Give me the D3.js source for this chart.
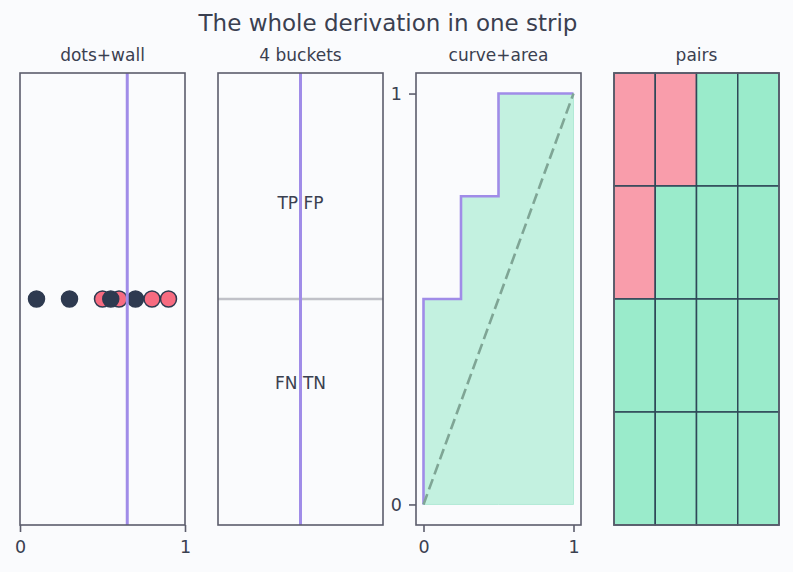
<!DOCTYPE html>
<html>
<head>
<meta charset="utf-8">
<script src="https://cdn.jsdelivr.net/npm/d3@7"></script>
<style>
  body { margin: 0; background: #fafbfd; }
  svg { display: block; font-family: "DejaVu Sans", sans-serif; }
</style>
</head>
<body>
<script>
// scores and true labels (1 = positive) of the 8 dots
var scores = [0.1, 0.3, 0.5, 0.55, 0.6, 0.7, 0.8, 0.9];
var labels = [0, 0, 1, 0, 1, 0, 1, 1];
var wall = 0.65;

var bucketText = ["TP FP", "FN TN"];
var bucketY = [0.7, 0.3];

// ROC steps
var rocFpr = [0, 0, 0.25, 0.25, 0.5, 0.5, 1];
var rocTpr = [0, 0.5, 0.5, 0.75, 0.75, 1, 1];

// pairs grid: 1 = ordered correctly, 0 = swapped
var pairs = [
    [0, 0, 1, 1],
    [0, 1, 1, 1],
    [1, 1, 1, 1],
    [1, 1, 1, 1]
];

var panelTitles = ["dots+wall", "4 buckets", "curve+area", "pairs"];
var ticks01 = [0, 1];

var width = 793, height = 572;
var plotTop = 73, plotBottom = 525;
var panelW = 165, step = 198, left0 = 20;

var ink = "#3a4050";
var frameCol = "#5c5d6c";
var purple = "#a08ce8";
var pink = "#f76b80";
var dark = "#2e3a50";

var svg = d3.select("body").append("svg")
    .attr("width", width)
    .attr("height", height);

svg.append("text")
    .attr("x", 388).attr("y", 31)
    .attr("text-anchor", "middle")
    .attr("font-size", 23)
    .attr("fill", ink)
    .text("The whole derivation in one strip");

function styleAxis(g) {
    g.select(".domain").remove();
    g.selectAll(".tick line").attr("stroke", frameCol).attr("stroke-width", 1.6);
    g.selectAll(".tick text").attr("fill", ink).attr("font-size", 17.5)
        .attr("font-family", "DejaVu Sans, sans-serif");
}

function panel(i) {
    var x0 = left0 + i * step;
    var g = svg.append("g");
    g.append("text")
        .attr("x", x0 + panelW / 2).attr("y", 61)
        .attr("text-anchor", "middle")
        .attr("font-size", 17)
        .attr("fill", ink)
        .text(panelTitles[i]);
    return { g: g, x0: x0, x1: x0 + panelW };
}

function frame(p) {
    p.g.append("rect")
        .attr("x", p.x0).attr("y", plotTop)
        .attr("width", panelW).attr("height", plotBottom - plotTop)
        .attr("fill", "none")
        .attr("stroke", frameCol)
        .attr("stroke-width", 1.6);
}

// panel 1: dots + wall
var p1 = panel(0);
var x1 = d3.scaleLinear().domain([0, 1]).range([p1.x0, p1.x1]);
var y1 = d3.scaleLinear().domain([-1, 1]).range([plotBottom, plotTop]);
var dots = scores.map((s, i) => ({ s: s, lab: labels[i] }));
dots.sort((a, b) => b.lab - a.lab);
p1.g.append("g").selectAll("circle")
    .data(dots)
    .join("circle")
    .attr("cx", d => x1(d.s))
    .attr("cy", y1(0))
    .attr("r", 8)
    .attr("fill", d => d.lab ? pink : dark)
    .attr("stroke", dark)
    .attr("stroke-width", 1.5);
p1.g.append("line")
    .attr("x1", x1(wall)).attr("x2", x1(wall))
    .attr("y1", plotTop).attr("y2", plotBottom)
    .attr("stroke", purple).attr("stroke-width", 3);
frame(p1);
p1.g.append("g")
    .attr("transform", `translate(0,${plotBottom})`)
    .call(d3.axisBottom(x1).tickValues(ticks01).tickFormat(d3.format("d")).tickSize(7).tickPadding(9))
    .call(styleAxis);

// panel 2: four buckets
var p2 = panel(1);
var x2 = d3.scaleLinear().domain([0, 1]).range([p2.x0, p2.x1]);
var y2 = d3.scaleLinear().domain([0, 1]).range([plotBottom, plotTop]);
p2.g.append("line")
    .attr("x1", x2(0)).attr("x2", x2(1))
    .attr("y1", y2(0.5)).attr("y2", y2(0.5))
    .attr("stroke", "#c0c1c8").attr("stroke-width", 2.5);
p2.g.append("line")
    .attr("x1", x2(0.5)).attr("x2", x2(0.5))
    .attr("y1", plotTop).attr("y2", plotBottom)
    .attr("stroke", purple).attr("stroke-width", 3);
p2.g.selectAll(".bucket")
    .data(bucketText)
    .join("text")
    .attr("class", "bucket")
    .attr("x", x2(0.5))
    .attr("y", (d, i) => y2(bucketY[i]))
    .attr("text-anchor", "middle")
    .attr("font-size", 17)
    .attr("fill", ink)
    .text(d => d);
frame(p2);

// panel 3: curve + area
var p3 = panel(2);
var x3 = d3.scaleLinear().domain([-0.05, 1.05]).range([p3.x0, p3.x1]);
var y3 = d3.scaleLinear().domain([-0.05, 1.05]).range([plotBottom, plotTop]);
var roc = rocFpr.map((f, i) => [f, rocTpr[i]]);
p3.g.append("path")
    .datum(roc)
    .attr("fill", "#c3f1e0")
    .attr("stroke", "#b2ead6")
    .attr("stroke-width", 1)
    .attr("d", d3.area().x(d => x3(d[0])).y0(y3(0)).y1(d => y3(d[1])));
p3.g.append("path")
    .datum(roc)
    .attr("fill", "none")
    .attr("stroke", purple)
    .attr("stroke-width", 2.6)
    .attr("d", d3.line().x(d => x3(d[0])).y(d => y3(d[1])));
p3.g.append("line")
    .attr("x1", x3(0)).attr("y1", y3(0))
    .attr("x2", x3(1)).attr("y2", y3(1))
    .attr("stroke", "#7fa595")
    .attr("stroke-width", 2.6)
    .attr("stroke-dasharray", "11,5");
frame(p3);
p3.g.append("g")
    .attr("transform", `translate(0,${plotBottom})`)
    .call(d3.axisBottom(x3).tickValues(ticks01).tickFormat(d3.format("d")).tickSize(7).tickPadding(9))
    .call(styleAxis);
p3.g.append("g")
    .attr("transform", `translate(${p3.x0},0)`)
    .call(d3.axisLeft(y3).tickValues(ticks01).tickFormat(d3.format("d")).tickSize(7).tickPadding(7))
    .call(styleAxis);

// panel 4: pairs grid
var p4 = panel(3);
var x4 = d3.scaleBand().domain(d3.range(4)).range([p4.x0, p4.x1]);
var y4 = d3.scaleBand().domain(d3.range(4)).range([plotTop, plotBottom]);
var cells = [];
pairs.forEach((row, r) => row.forEach((v, c) => cells.push({ r: r, c: c, v: v })));
p4.g.append("g").selectAll("rect")
    .data(cells)
    .join("rect")
    .attr("x", d => x4(d.c))
    .attr("y", d => y4(d.r))
    .attr("width", x4.bandwidth())
    .attr("height", y4.bandwidth())
    .attr("fill", d => d.v ? "#9aebcb" : "#f99dab")
    .attr("stroke", "#2f4858")
    .attr("stroke-width", 1.5);
frame(p4);
</script>
</body>
</html>
